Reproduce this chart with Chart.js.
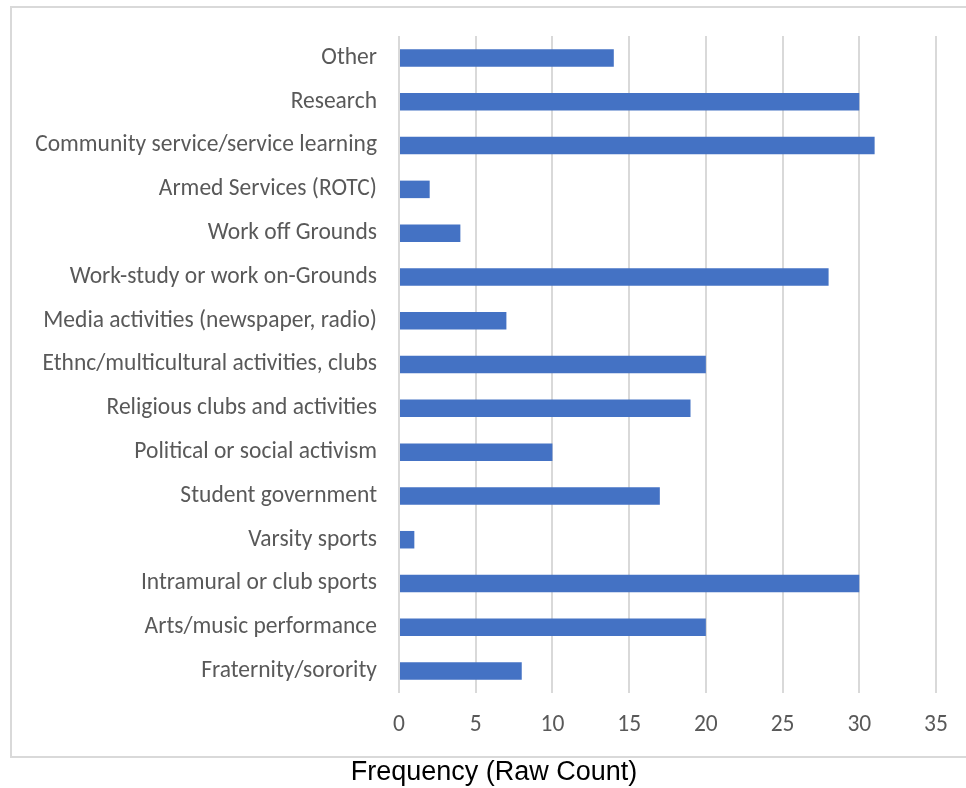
<!DOCTYPE html>
<html>
<head>
<meta charset="utf-8">
<script src="https://cdn.jsdelivr.net/npm/chart.js@4/dist/chart.umd.min.js"></script>
<style>
html,body{margin:0;padding:0;background:#fff;}
#wrap{width:966px;height:788px;position:relative;}
</style>
</head>
<body>
<div id="wrap"><canvas id="c" width="966" height="788"></canvas></div>
<script>
const categories = [
  "Other",
  "Research",
  "Community service/service learning",
  "Armed Services (ROTC)",
  "Work off Grounds",
  "Work-study or work on-Grounds",
  "Media activities (newspaper, radio)",
  "Ethnc/multicultural activities, clubs",
  "Religious clubs and activities",
  "Political or social activism",
  "Student government",
  "Varsity sports",
  "Intramural or club sports",
  "Arts/music performance",
  "Fraternity/sorority"
];
const frequency = [14, 30, 31, 2, 4, 28, 7, 20, 19, 10, 17, 1, 30, 20, 8];
const xTicks = [0, 5, 10, 15, 20, 25, 30, 35];
const axisTitle = "Frequency (Raw Count)";

const boxPlugin = {
  id: 'box',
  beforeDraw(chart) {
    const ctx = chart.ctx;
    ctx.save();
    ctx.fillStyle = '#ffffff';
    ctx.fillRect(0, 0, chart.width, chart.height);
    ctx.strokeStyle = '#d9d9d9';
    ctx.lineWidth = 2;
    ctx.strokeRect(11, 7, 962, 750);
    ctx.restore();
  },
  afterDraw(chart) {
    const ctx = chart.ctx;
    ctx.save();
    ctx.fillStyle = '#000000';
    ctx.font = '27px "Liberation Sans", Arial, sans-serif';
    ctx.textAlign = 'center';
    ctx.textBaseline = 'middle';
    ctx.fillText(axisTitle, 494, 773);
    ctx.restore();
  }
};

new Chart(document.getElementById('c'), {
  type: 'bar',
  data: {
    labels: categories,
    datasets: [{
      data: frequency,
      backgroundColor: '#4472C4',
      borderWidth: 0,
      categoryPercentage: 1.0,
      barPercentage: 0.4
    }]
  },
  options: {
    indexAxis: 'y',
    responsive: false,
    animation: false,
    layout: { padding: { left: 0, right: 30, top: 36, bottom: 47 } },
    plugins: {
      legend: { display: false },
      tooltip: { enabled: false },
      title: { display: false }
    },
    scales: {
      x: {
        min: 0,
        max: 35,
        afterBuildTicks(scale) { scale.ticks = xTicks.map(v => ({ value: v })); },
        afterFit(scale) { scale.height = 48; },
        grid: { color: '#d9d9d9', lineWidth: 2, drawTicks: false },
        border: { display: false },
        ticks: {
          color: '#595959',
          padding: 18,
          font: { family: 'Carlito, Lato, sans-serif', size: 23.5 }
        }
      },
      y: {
        afterFit(scale) { scale.width = 399; },
        grid: { display: false, drawTicks: false },
        border: { display: false },
        ticks: {
          color: '#595959',
          padding: 22,
          autoSkip: false,
          font: { family: 'Carlito, Lato, sans-serif', size: 23.5 }
        }
      }
    }
  },
  plugins: [boxPlugin]
});
</script>
</body>
</html>
